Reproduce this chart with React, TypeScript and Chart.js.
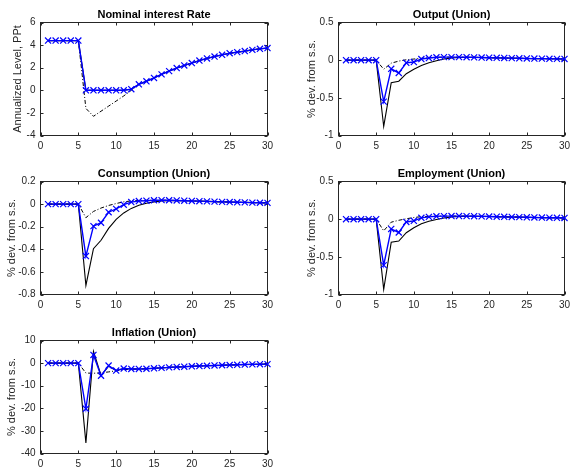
import React, { useEffect, useRef } from 'react';
import { Chart, registerables } from 'chart.js';

Chart.register(...registerables);

// ---------- data ----------
const periods = [1,2,3,4,5,6,7,8,9,10,11,12,13,14,15,16,17,18,19,20,21,22,23,24,25,26,27,28,29,30];
const xTicks = [0, 5, 10, 15, 20, 25, 30];

const rateBlue = [4.4,4.4,4.4,4.4,4.4,0,0,0,0,0,0,0.1,0.53,0.8,1.09,1.41,1.7,1.97,2.2,2.41,2.63,2.82,2.99,3.14,3.28,3.38,3.47,3.58,3.67,3.74];
const rateBlack = [4.4,4.4,4.4,4.4,4.4,0,0,0,0,0,0,0.1,0.53,0.8,1.09,1.41,1.7,1.97,2.2,2.41,2.63,2.82,2.99,3.14,3.28,3.38,3.47,3.58,3.67,3.74];
const rateDash = [4.4,4.4,4.4,4.4,4.4,-1.6,-2.3,-1.85,-1.4,-0.95,-0.5,0.0,0.53,0.8,1.09,1.41,1.7,1.97,2.2,2.41,2.63,2.82,2.99,3.14,3.28,3.38,3.47,3.58,3.67,3.74];
const rateTicks = [-4, -2, 0, 2, 4, 6];

const outBlue = [0,0,0,0,0,-0.55,-0.115,-0.17,-0.035,-0.025,0.015,0.028,0.038,0.04,0.04,0.04,0.039,0.037,0.035,0.033,0.031,0.029,0.027,0.025,0.023,0.021,0.02,0.018,0.017,0.016];
const outBlack = [0,0,0,0,0,-0.88,-0.3,-0.28,-0.18,-0.12,-0.07,-0.035,-0.008,0.015,0.028,0.035,0.037,0.037,0.035,0.033,0.031,0.029,0.027,0.025,0.023,0.021,0.02,0.018,0.017,0.016];
const outDash = [0,0,0,0,0,-0.12,-0.04,-0.012,0.005,0.015,0.025,0.032,0.037,0.04,0.04,0.04,0.039,0.037,0.035,0.033,0.031,0.029,0.027,0.025,0.023,0.021,0.02,0.018,0.017,0.016];
const outTicks = [-1, -0.5, 0, 0.5];

const consBlue = [0,0,0,0,0,-0.46,-0.195,-0.165,-0.072,-0.042,-0.005,0.018,0.027,0.03,0.034,0.035,0.034,0.032,0.03,0.028,0.026,0.024,0.022,0.02,0.018,0.016,0.015,0.013,0.012,0.011];
const consBlack = [0,0,0,0,0,-0.72,-0.395,-0.32,-0.215,-0.135,-0.078,-0.038,-0.01,0.008,0.02,0.027,0.03,0.03,0.029,0.028,0.026,0.024,0.022,0.02,0.018,0.016,0.015,0.013,0.012,0.011];
const consDash = [0,0,0,0,0,-0.12,-0.065,-0.035,-0.012,0.005,0.02,0.028,0.032,0.033,0.034,0.035,0.034,0.032,0.03,0.028,0.026,0.024,0.022,0.02,0.018,0.016,0.015,0.013,0.012,0.011];
const consTicks = [-0.8, -0.6, -0.4, -0.2, 0, 0.2];

const empBlue = [0,0,0,0,0,-0.61,-0.13,-0.177,-0.037,-0.022,0.018,0.03,0.038,0.04,0.041,0.041,0.04,0.039,0.037,0.035,0.033,0.031,0.029,0.027,0.025,0.023,0.021,0.019,0.018,0.016];
const empBlack = [0,0,0,0,0,-0.93,-0.305,-0.29,-0.18,-0.115,-0.062,-0.028,-0.005,0.015,0.028,0.035,0.038,0.039,0.037,0.035,0.033,0.031,0.029,0.027,0.025,0.023,0.021,0.019,0.018,0.016];
const empDash = [0,0,0,0,0,-0.155,-0.04,-0.015,0.005,0.022,0.033,0.038,0.04,0.041,0.041,0.041,0.04,0.039,0.037,0.035,0.033,0.031,0.029,0.027,0.025,0.023,0.021,0.019,0.018,0.016];
const empTicks = [-1, -0.5, 0, 0.5];

const infBlue = [0,0,0,0,0,-20.2,3.6,-5.6,-1.1,-3.3,-2.4,-2.6,-2.6,-2.5,-2.3,-2.1,-1.9,-1.7,-1.6,-1.4,-1.3,-1.2,-1.05,-0.95,-0.85,-0.75,-0.65,-0.55,-0.5,-0.45];
const infBlack = [0,0,0,0,0,-35.3,5.2,-5.5,-1.3,-3.3,-2.4,-2.6,-2.6,-2.5,-2.3,-2.1,-1.9,-1.7,-1.6,-1.4,-1.3,-1.2,-1.05,-0.95,-0.85,-0.75,-0.65,-0.55,-0.5,-0.45];
const infDash = [0,0,0,0,0,-4.4,-4.5,-4.3,-3.9,-3.4,-2.9,-2.7,-2.6,-2.5,-2.3,-2.1,-1.9,-1.7,-1.6,-1.4,-1.3,-1.2,-1.05,-0.95,-0.85,-0.75,-0.65,-0.55,-0.5,-0.45];
const infTicks = [-40, -30, -20, -10, 0, 10];

const titles = ['Nominal interest Rate', 'Output (Union)', 'Consumption (Union)', 'Employment (Union)', 'Inflation (Union)'];
const yLabels = ['Annualized Level, PPt', '% dev. from s.s.', '% dev. from s.s.', '% dev. from s.s.', '% dev. from s.s.'];

// ---------- styling ----------
const AXIS = '#262626';
const FONT = '"Liberation Sans", Arial, Helvetica, sans-serif';
const TICK_LEN = 3;

const boxPlugin = {
  id: 'matlabBox',
  beforeDatasetsDraw(chart: any, _args: any, opts: any) {
    const { ctx, chartArea } = chart;
    const { left, right, top, bottom } = chartArea;
    const xs = chart.scales.x;
    const ys = chart.scales.y;
    ctx.save();
    ctx.strokeStyle = AXIS;
    ctx.lineWidth = 1;
    ctx.strokeRect(left, top, right - left, bottom - top);
    ctx.beginPath();
    xs.ticks.forEach((t: any) => {
      const p = Math.round(xs.getPixelForValue(t.value)) + 0.5;
      ctx.moveTo(p, bottom); ctx.lineTo(p, bottom - TICK_LEN);
      ctx.moveTo(p, top); ctx.lineTo(p, top + TICK_LEN);
    });
    ys.ticks.forEach((t: any) => {
      const p = Math.round(ys.getPixelForValue(t.value)) + 0.5;
      ctx.moveTo(left, p); ctx.lineTo(left + TICK_LEN, p);
      ctx.moveTo(right, p); ctx.lineTo(right - TICK_LEN, p);
    });
    ctx.stroke();
    ctx.font = 'bold 11px ' + FONT;
    ctx.fillStyle = '#000';
    ctx.textAlign = 'center';
    ctx.textBaseline = 'alphabetic';
    ctx.fillText(opts.title, (left + right) / 2, top - 5);
    ctx.restore();
  },
};

type PanelCfg = {
  x: number; y: number; w: number; h: number;
  yW: number; padTop: number; padRight: number; xH: number; titlePad: number;
  title: string; yLabel: string;
  blue: number[]; black: number[]; dash: number[]; yTicks: number[];
};

const pts = (vals: number[]) => vals.map((v, i) => ({ x: periods[i], y: v }));

function Panel({ cfg }: { cfg: PanelCfg }) {
  const ref = useRef<HTMLCanvasElement>(null);
  useEffect(() => {
    const chart = new Chart(ref.current as HTMLCanvasElement, {
      type: 'line',
      data: {
        datasets: [
          {
            data: pts(cfg.blue), borderColor: '#0000ff', borderWidth: 1.4,
            pointStyle: 'crossRot', pointRadius: 4.3, pointBorderColor: '#0000ff',
            pointBorderWidth: 1.2, pointBackgroundColor: '#0000ff', order: 0, clip: false,
          } as any,
          {
            data: pts(cfg.black), borderColor: '#000000', borderWidth: 1.1,
            pointRadius: 0, order: 1, clip: false,
          } as any,
          {
            data: pts(cfg.dash), borderColor: '#000000', borderWidth: 1,
            borderDash: [4, 2, 1, 2], pointRadius: 0, order: 2, clip: false,
          } as any,
        ],
      },
      options: {
        responsive: false,
        animation: false,
        devicePixelRatio: 1,
        layout: { padding: { left: 0, top: cfg.padTop, right: cfg.padRight, bottom: 0 } },
        plugins: {
          legend: { display: false },
          tooltip: { enabled: false },
          title: { display: false },
          matlabBox: { title: cfg.title },
        } as any,
        scales: {
          x: {
            type: 'linear', min: 0, max: 30,
            grid: { display: false, drawTicks: false },
            border: { display: false },
            ticks: { color: AXIS, font: { family: FONT, size: 10 }, padding: 5, maxRotation: 0, autoSkip: false },
            afterBuildTicks: (s: any) => { s.ticks = xTicks.map((v) => ({ value: v })); },
            afterFit: (s: any) => { s.height = cfg.xH; s.paddingLeft = 0; s.paddingRight = 0; },
          },
          y: {
            type: 'linear', min: cfg.yTicks[0], max: cfg.yTicks[cfg.yTicks.length - 1],
            grid: { display: false, drawTicks: false },
            border: { display: false },
            ticks: { color: AXIS, font: { family: FONT, size: 10 }, padding: 5, autoSkip: false, callback: (v: any) => String(v) },
            afterBuildTicks: (s: any) => { s.ticks = cfg.yTicks.map((v) => ({ value: v })); },
            afterFit: (s: any) => { s.width = cfg.yW; s.paddingTop = 0; s.paddingBottom = 0; },
            title: { display: true, text: cfg.yLabel, color: AXIS, font: { family: FONT, size: 11 }, padding: { top: cfg.titlePad, bottom: 0 } },
          },
        } as any,
      },
      plugins: [boxPlugin],
    });
    return () => chart.destroy();
  }, []);
  return (
    <canvas
      ref={ref}
      width={cfg.w}
      height={cfg.h}
      style={{ position: 'absolute', left: cfg.x, top: cfg.y, width: cfg.w, height: cfg.h, display: 'block' }}
    />
  );
}

const panels: PanelCfg[] = [
  { x: 0, y: 0, w: 276, h: 159, yW: 40.5, padTop: 22.5, padRight: 8.5, xH: 23.5, titlePad: 11,
    title: titles[0], yLabel: yLabels[0], blue: rateBlue, black: rateBlack, dash: rateDash, yTicks: rateTicks },
  { x: 285, y: 0, w: 285, h: 159, yW: 53.5, padTop: 22.5, padRight: 5.5, xH: 23.5, titlePad: 20,
    title: titles[1], yLabel: yLabels[1], blue: outBlue, black: outBlack, dash: outDash, yTicks: outTicks },
  { x: 0, y: 159, w: 276, h: 159, yW: 40.5, padTop: 22.5, padRight: 8.5, xH: 23.5, titlePad: 5.5,
    title: titles[2], yLabel: yLabels[2], blue: consBlue, black: consBlack, dash: consDash, yTicks: consTicks },
  { x: 285, y: 159, w: 285, h: 159, yW: 53.5, padTop: 22.5, padRight: 5.5, xH: 23.5, titlePad: 20,
    title: titles[3], yLabel: yLabels[3], blue: empBlue, black: empBlack, dash: empDash, yTicks: empTicks },
  { x: 0, y: 318, w: 276, h: 150, yW: 40.5, padTop: 22.5, padRight: 8.5, xH: 14.5, titlePad: 5.5,
    title: titles[4], yLabel: yLabels[4], blue: infBlue, black: infBlack, dash: infDash, yTicks: infTicks },
];

export default function App() {
  return (
    <div style={{ position: 'fixed', left: 0, top: 0, width: 570, height: 468, background: '#fff', overflow: 'hidden' }}>
      {panels.map((p, i) => <Panel key={i} cfg={p} />)}
    </div>
  );
}
